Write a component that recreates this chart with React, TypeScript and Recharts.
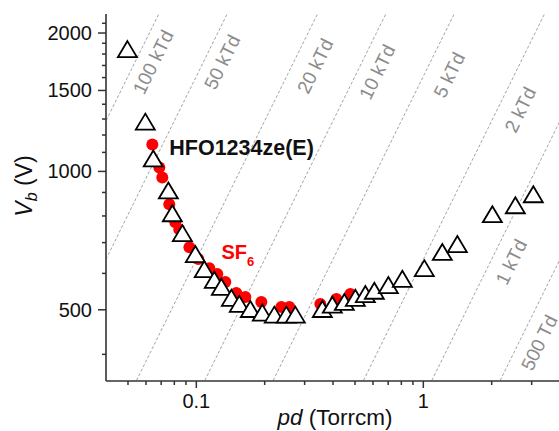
import React from 'react';
import { ScatterChart, Scatter, XAxis, YAxis, ReferenceLine, ReferenceDot } from 'recharts';

// HFO1234ze(E) breakdown voltage (open triangles)
const hfoPd = [0.0497, 0.0596, 0.0646, 0.0753, 0.0784, 0.0868, 0.099, 0.1084, 0.12, 0.1289, 0.1427, 0.1546, 0.1729, 0.1953, 0.2206, 0.2492, 0.273, 0.359, 0.3973, 0.4487, 0.5017, 0.5553, 0.6083, 0.7013, 0.8082, 1.01, 1.212, 1.412, 2.014, 2.543, 3.052];
const hfoVb = [1845, 1283, 1067, 909, 811, 734, 661, 613, 581, 561, 531, 515, 502, 493, 488, 488, 488, 502, 513, 520, 531, 541, 550, 566, 584, 616, 668, 695, 807, 844, 892];

// SF6 breakdown voltage (red circles)
const sf6Pd = [0.064, 0.0687, 0.0708, 0.076, 0.0808, 0.0841, 0.0932, 0.102, 0.1141, 0.1237, 0.1342, 0.15, 0.1644, 0.1933, 0.2368, 0.2569, 0.3518, 0.4138, 0.4769];
const sf6Vb = [1144, 1020, 970, 848, 775, 748, 684, 645, 616, 598, 575, 544, 533, 520, 507, 507, 515, 528, 541];

// Axis ticks
const xTicks = [0.05, 0.06, 0.07, 0.08, 0.09, 0.1, 0.2, 0.3, 0.4, 0.5, 0.6, 0.7, 0.8, 0.9, 1, 2, 3, 4];
const xMajor = [0.1, 1];
const yTicks = [400, 500, 600, 700, 800, 900, 1000, 1100, 1200, 1300, 1400, 1500, 1600, 1700, 1800, 1900, 2000, 2100];
const yMajor = [500, 1000, 1500, 2000];

// Constant reduced-field (E/N) guide lines, in Td
const fieldTd = [100000, 50000, 20000, 10000, 5000, 2000, 1000, 500];
const fieldLabels = ['100 kTd', '50 kTd', '20 kTd', '10 kTd', '5 kTd', '2 kTd', '1 kTd', '500 Td'];
const fieldLabelPd = [0.0646, 0.1302, 0.3344, 0.627, 1.302, 2.675, 2.442, 3.243];
const fieldLabelVb = [1729, 1729, 1695, 1645, 1621, 1362, 635, 424];
const V_PER_TD_TORRCM = 0.322; // V = (E/N)[Td] * 0.322 * pd[Torr cm] at room temperature
const guideV = [300, 2600];

const hfoData = hfoPd.map((x, i) => ({ x, y: hfoVb[i] }));
const sf6Data = sf6Pd.map((x, i) => ({ x, y: sf6Vb[i] }));

const AX = '#333';
const FONT = '"Liberation Sans", Arial, sans-serif';

const BottomTick = (p: any) => {
  const major = xMajor.includes(p.payload.value);
  return (
    <g>
      <line x1={p.x} x2={p.x} y1={p.y} y2={p.y + (major ? 7 : 4)} stroke={AX} strokeWidth={1.5} />
      {major && (
        <text x={p.x} y={p.y + 27} textAnchor="middle" fontSize={20} fontFamily={FONT} fill="#111">
          {p.payload.value}
        </text>
      )}
    </g>
  );
};
const TopTick = (p: any) => {
  const major = xMajor.includes(p.payload.value);
  return <line x1={p.x} x2={p.x} y1={p.y} y2={p.y + (major ? 7 : 4)} stroke={AX} strokeWidth={1.5} />;
};
const LeftTick = (p: any) => {
  const major = yMajor.includes(p.payload.value);
  return (
    <g>
      <line x1={p.x - (major ? 8 : 4)} x2={p.x} y1={p.y} y2={p.y} stroke={AX} strokeWidth={1.5} />
      {major && (
        <text x={p.x - 14} y={p.y + 7} textAnchor="end" fontSize={20} fontFamily={FONT} fill="#111">
          {p.payload.value}
        </text>
      )}
    </g>
  );
};
const RightTick = (p: any) => {
  const major = yMajor.includes(p.payload.value);
  return <line x1={p.x - (major ? 8 : 4)} x2={p.x} y1={p.y} y2={p.y} stroke={AX} strokeWidth={1.5} />;
};

const Tri = (p: any) => {
  const { cx, cy } = p;
  return (
    <path
      d={`M${cx},${cy - 8}L${cx + 9.5},${cy + 8}L${cx - 9.5},${cy + 8}Z`}
      fill="#fff"
      stroke="#000"
      strokeWidth={1.8}
    />
  );
};
const RedDot = (p: any) => <circle cx={p.cx} cy={p.cy} r={6} fill="#ff0000" />;

export default function App() {
  return (
    <div style={{ position: 'fixed', left: 0, top: 0, width: 559, height: 431, overflow: 'hidden', background: '#fff' }}>
      <ScatterChart width={600} height={431} margin={{ top: 14, right: 40, bottom: 0, left: 0 }}>
        <XAxis
          xAxisId={0}
          type="number"
          dataKey="x"
          scale="log"
          domain={[0.04, 4]}
          allowDataOverflow
          ticks={xTicks}
          interval={0}
          tickSize={0}
          tickMargin={0}
          tick={BottomTick}
          tickLine={false}
          axisLine={{ stroke: AX, strokeWidth: 1.6 }}
          height={50}
          label={{
            content: () => (
              <text x={335} y={425} textAnchor="middle" fontSize={22.5} fontFamily={FONT} fill="#111">
                <tspan fontStyle="italic">pd</tspan>
                <tspan> (Torrcm)</tspan>
              </text>
            ),
          }}
        />
        <XAxis
          xAxisId="top"
          orientation="top"
          type="number"
          dataKey="x"
          scale="log"
          domain={[0.04, 4]}
          allowDataOverflow
          ticks={xTicks}
          interval={0}
          tickSize={0}
          tickMargin={0}
          tick={TopTick}
          tickLine={false}
          axisLine={{ stroke: AX, strokeWidth: 1.6 }}
          height={0}
        />
        <YAxis
          yAxisId={0}
          type="number"
          dataKey="y"
          scale="log"
          domain={[350, 2200]}
          allowDataOverflow
          ticks={yTicks}
          interval={0}
          tickSize={0}
          tickMargin={0}
          tick={LeftTick}
          tickLine={false}
          axisLine={{ stroke: AX, strokeWidth: 1.6 }}
          width={106}
          label={{
            content: () => (
              <text
                x={32}
                y={186}
                transform="rotate(-90 32 186)"
                textAnchor="middle"
                fontSize={23}
                fontFamily={FONT}
                fill="#111"
              >
                <tspan fontStyle="italic">V</tspan>
                <tspan fontStyle="italic" fontSize={16} dy={5}>b</tspan>
                <tspan dy={-5}> (V)</tspan>
              </text>
            ),
          }}
        />
        <YAxis
          yAxisId="right"
          orientation="right"
          type="number"
          dataKey="y"
          scale="log"
          domain={[350, 2200]}
          allowDataOverflow
          ticks={yTicks}
          interval={0}
          tickSize={0}
          tickMargin={0}
          tick={RightTick}
          tickLine={false}
          axisLine={{ stroke: AX, strokeWidth: 1.6 }}
          width={0}
        />

        {fieldTd.map((td) => (
          <ReferenceLine
            key={`fl-${td}`}
            segment={[
              { x: guideV[0] / (td * V_PER_TD_TORRCM), y: guideV[0] },
              { x: guideV[1] / (td * V_PER_TD_TORRCM), y: guideV[1] },
            ]}
            ifOverflow="hidden"
            stroke="#9a9a9a"
            strokeWidth={0.9}
            strokeDasharray="3 2"
          />
        ))}
        {fieldLabels.map((lab, i) => (
          <ReferenceDot
            key={`lab-${lab}`}
            x={fieldLabelPd[i]}
            y={fieldLabelVb[i]}
            r={0}
            ifOverflow="visible"
            shape={(p: any) => (
              <text
                x={p.cx}
                y={p.cy}
                transform={`rotate(-63.8 ${p.cx} ${p.cy})`}
                textAnchor="middle"
                dominantBaseline="central"
                fontSize={19}
                fontFamily={FONT}
                fill="#8c8c8c"
              >
                {lab}
              </text>
            )}
          />
        ))}

        <Scatter name="SF6" data={sf6Data} shape={RedDot} isAnimationActive={false} />
        <Scatter name="HFO1234ze(E)" data={hfoData} shape={Tri} isAnimationActive={false} />

        <ReferenceDot
          x={0.076}
          y={1088}
          r={0}
          ifOverflow="visible"
          shape={(p: any) => (
            <text x={p.cx} y={p.cy} fontSize={21.5} fontWeight="bold" fontFamily={FONT} fill="#111">
              HFO1234ze(E)
            </text>
          )}
        />
        <ReferenceDot
          x={0.129}
          y={644}
          r={0}
          ifOverflow="visible"
          shape={(p: any) => (
            <text x={p.cx} y={p.cy} fontSize={20} fontWeight="bold" fontFamily={FONT} fill="#ff0000">
              <tspan>SF</tspan>
              <tspan fontSize={13} dy={7}>6</tspan>
            </text>
          )}
        />
      </ScatterChart>
    </div>
  );
}
